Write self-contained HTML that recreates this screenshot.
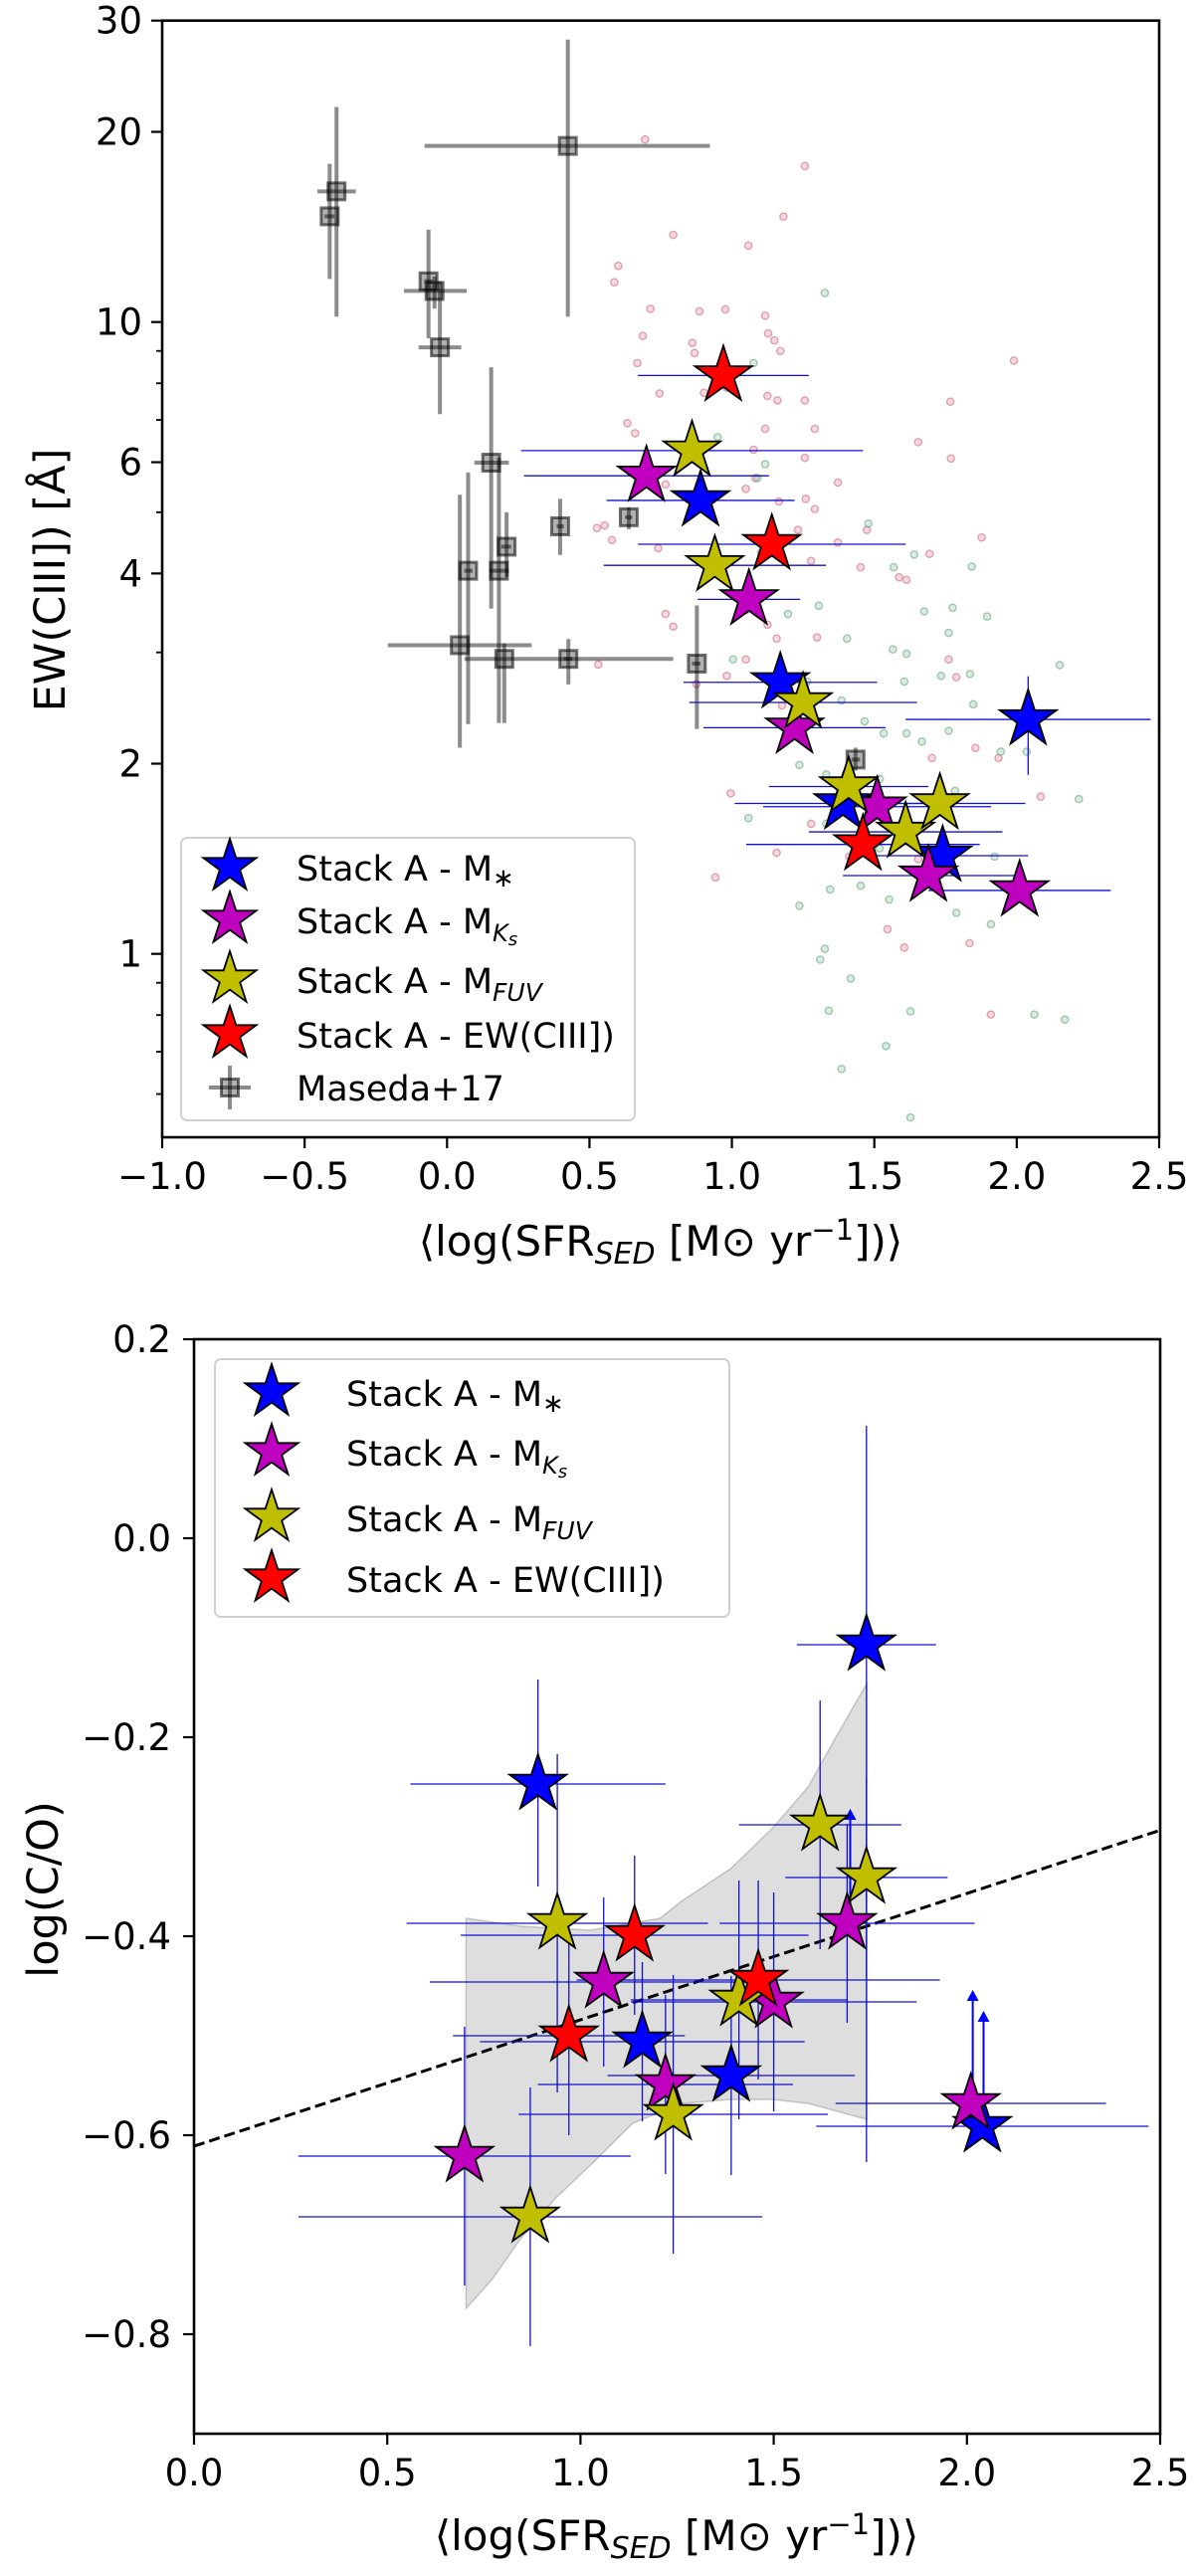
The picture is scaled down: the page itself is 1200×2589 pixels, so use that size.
<!DOCTYPE html>
<html><head><meta charset="utf-8">
<style>
html,body{margin:0;padding:0;background:#fff;}
svg{display:block;font-family:"DejaVu Sans","Liberation Sans",sans-serif;}
</style></head>
<body>
<svg id="fig" width="1200" height="2589" viewBox="0 0 1200 2589" xmlns="http://www.w3.org/2000/svg">
<rect x="0" y="0" width="1200" height="2589" fill="#fff"/>
<g id="topPanel"></g>
<g id="botPanel"></g>
</svg>
<script>
// ---------- TOP PANEL DATA ----------
const bgPinkSfr=[0.695,1.256,1.181,0.794,1.058,0.601,0.587,1.117,0.714,0.977,0.886,1.127,1.149,1.170,0.687,0.861,0.869,0.668,1.990,0.982,0.902,0.746,1.125,1.160,1.256,1.767,0.633,0.660,1.117,1.291,1.076,1.256,1.654,1.769,1.082,1.372,1.259,1.165,1.291,0.767,1.049,0.553,0.526,0.579,1.232,1.474,1.372,1.877,0.741,1.103,1.278,1.587,1.452,1.613,1.694,1.049,0.767,0.794,1.125,1.299,1.157,1.761,1.049,0.531,0.982,0.875,1.788,1.176,1.855,1.702,1.936,1.157,0.996,2.084,1.654,1.278,1.412,1.546,1.605,1.834,1.909,0.942];
const bgPinkLogEW=[1.289,1.247,1.167,1.138,1.121,1.089,1.063,1.010,1.021,1.020,1.017,0.982,0.971,0.954,0.978,0.967,0.951,0.935,0.939,0.896,0.888,0.887,0.883,0.876,0.876,0.874,0.840,0.824,0.831,0.831,0.798,0.785,0.810,0.784,0.753,0.746,0.720,0.716,0.704,0.743,0.736,0.678,0.674,0.655,0.671,0.671,0.651,0.659,0.642,0.635,0.622,0.596,0.612,0.592,0.633,0.544,0.538,0.518,0.521,0.501,0.499,0.466,0.466,0.458,0.440,0.427,0.438,0.393,0.326,0.310,0.310,0.160,0.254,0.249,0.150,0.206,0.154,0.039,0.010,0.017,-0.096,0.121];
const bgGreenSfr=[1.326,1.076,0.950,1.090,1.117,1.479,1.568,1.640,1.842,1.675,1.775,1.896,1.305,1.404,1.197,1.565,1.613,1.761,1.605,1.734,1.836,2.151,1.004,1.264,1.385,1.466,1.613,1.847,1.761,1.533,1.667,1.944,2.035,1.237,1.331,1.519,1.783,2.218,1.331,1.058,1.519,1.922,1.345,1.452,1.552,1.788,1.909,1.237,1.326,1.310,1.417,1.340,1.627,1.541,1.385,1.627,2.062,2.169];
const bgGreenLogEW=[1.046,0.935,0.818,0.753,0.775,0.681,0.612,0.632,0.613,0.542,0.548,0.534,0.551,0.499,0.538,0.482,0.475,0.508,0.431,0.440,0.443,0.457,0.466,0.431,0.401,0.368,0.349,0.395,0.353,0.349,0.336,0.320,0.320,0.299,0.284,0.277,0.258,0.245,0.206,0.215,0.167,0.154,0.102,0.108,0.086,0.065,0.047,0.076,0.008,-0.009,-0.039,-0.090,-0.091,-0.146,-0.182,-0.259,-0.096,-0.104];

const masX=[-0.412,-0.388,0.424,-0.065,-0.044,-0.025,0.155,0.074,0.182,0.209,0.397,0.638,0.045,0.201,0.426,0.877,1.434];
const masXlo=[-0.43,-0.455,-0.079,-0.08,-0.151,-0.100,0.096,0.06,0.150,0.19,0.385,0.625,-0.208,0.061,0.41,0.86,1.42];
const masXhi=[-0.395,-0.320,0.923,-0.05,0.069,0.050,0.217,0.09,0.217,0.225,0.41,0.65,0.297,0.794,0.44,0.89,1.45];
const masEW=[14.7,16.1,19.0,11.6,11.2,9.12,5.99,4.04,4.04,4.41,4.75,4.91,3.08,2.93,2.93,2.88,2.03];
const masEWlo=[11.7,10.2,10.2,9.42,10.5,7.15,3.52,2.31,2.32,3.95,4.28,4.70,2.12,2.32,2.67,2.27,1.95];
const masEWhi=[17.8,21.9,28.0,14.0,11.8,11.6,8.48,5.78,6.10,5.0,5.25,5.09,5.33,3.10,3.15,3.56,2.12];

const topMsSfr=[0.89,1.17,2.04,1.39,1.74];
const topMsEW=[5.22,2.69,2.35,1.73,1.43];
const topMsXerr=[0.33,0.34,0.43,0.38,0.30];
const topKsSfr=[0.70,1.06,1.22,1.51,1.69,2.01];
const topKsEW=[5.71,3.64,2.28,1.71,1.33,1.26];
const topKsXerr=[0.43,0.18,0.32,0.40,0.30,0.32];
const topFuvSfr=[0.86,0.94,1.25,1.41,1.61,1.73];
const topFuvEW=[6.26,4.12,2.50,1.84,1.56,1.73];
const topFuvXerr=[0.60,0.39,0.40,0.28,0.34,0.30];
const topEwSfr=[0.97,1.14,1.46];
const topEwEW=[8.23,4.45,1.49];
const topEwXerr=[0.30,0.47,0.41];

const topXTicks=[-1.0,-0.5,0.0,0.5,1.0,1.5,2.0,2.5];
const topXTickLabels=["\u22121.0","\u22120.5","0.0","0.5","1.0","1.5","2.0","2.5"];
const topYMajor=[1,2,4,6,10,20,30];
const topYMajorLabels=["1","2","4","6","10","20","30"];
const topYMinor=[0.6,0.7,0.8,0.9,3,5,7,8,9];

// ---------- BOTTOM PANEL DATA ----------
const botMsSfr=[0.89,1.16,1.39,1.74,2.04];
const botMsCO=[-0.247,-0.506,-0.540,-0.107,-0.591];
const botMsXerr=[0.33,0.42,0.32,0.18,0.43];
const botMsYlo=[0.103,0.08,0.10,0.52,0.0];
const botMsYhi=[0.105,0.08,0.10,0.22,0.0];
const botKsSfr=[0.70,1.06,1.22,1.50,1.69,2.01];
const botKsCO=[-0.621,-0.446,-0.549,-0.466,-0.387,-0.568];
const botKsXerr=[0.43,0.45,0.33,0.37,0.33,0.35];
const botKsYerr=[0.13,0.085,0.09,0.11,0.10,0.0];
const botFuvSfr=[0.87,0.94,1.24,1.41,1.62,1.74];
const botFuvCO=[-0.682,-0.387,-0.579,-0.464,-0.288,-0.341];
const botFuvXerr=[0.60,0.39,0.40,0.28,0.21,0.21];
const botFuvYerr=[0.13,0.17,0.14,0.12,0.125,0.10];
const botEwSfr=[0.97,1.14,1.46];
const botEwCO=[-0.500,-0.399,-0.444];
const botEwXerr=[0.30,0.45,0.47];
const botEwYerr=[0.10,0.08,0.10];

const limitSfr=[1.698,2.015,2.043];
const limitFrom=[-0.387,-0.568,-0.591];
const limitTo=[-0.274,-0.456,-0.477];

const bandUpX=[0.704,0.845,1.026,1.206,1.261,1.389,1.498,1.589,1.661,1.741];
const bandUpY=[-0.382,-0.390,-0.394,-0.382,-0.365,-0.332,-0.291,-0.250,-0.200,-0.146];
const bandLoX=[0.704,0.771,0.845,0.936,1.026,1.135,1.261,1.389,1.498,1.589,1.741];
const bandLoY=[-0.774,-0.745,-0.704,-0.663,-0.630,-0.588,-0.568,-0.564,-0.564,-0.568,-0.584];

const fitIntercept=-0.611;
const fitSlope=0.127;

const botXTicks=[0.0,0.5,1.0,1.5,2.0,2.5];
const botXTickLabels=["0.0","0.5","1.0","1.5","2.0","2.5"];
const botYTicks=[0.2,0.0,-0.2,-0.4,-0.6,-0.8];
const botYTickLabels=["0.2","0.0","\u22120.2","\u22120.4","\u22120.6","\u22120.8"];

// ---------- helpers ----------
const NS="http://www.w3.org/2000/svg";
function mk(parent,tag,attrs){const e=document.createElementNS(NS,tag);for(const k in attrs)e.setAttribute(k,attrs[k]);parent.appendChild(e);return e;}
function starPts(cx,cy,R){let p=[];for(let i=0;i<10;i++){const a=-Math.PI/2+i*Math.PI/5;const r=i%2?R*0.382:R;p.push((cx+r*Math.cos(a)).toFixed(1)+","+(cy+r*Math.sin(a)).toFixed(1));}return p.join(" ");}

const T={l:163,r:1165,t:20.7,b:1143};
const X1=v=>T.l+(v+1)*(T.r-T.l)/3.5;
const Y1=v=>T.t+(Math.log10(30)-Math.log10(v))*635;
const B={l:195,r:1166,t:1346,b:2446};
const X2=v=>B.l+v*(B.r-B.l)/2.5;
const Y2=v=>B.t+(0.2-v)*1000;

const gTop=document.getElementById('topPanel');
const gBot=document.getElementById('botPanel');

// ===== TOP PANEL =====
const clipT=mk(gTop,'clipPath',{id:'clipT'});mk(clipT,'rect',{x:T.l,y:T.t,width:T.r-T.l,height:T.b-T.t});
const plotT=mk(gTop,'g',{'clip-path':'url(#clipT)'});



for(let i=0;i<bgPinkSfr.length;i++){
  const c=mk(plotT,'circle',{cx:X1(bgPinkSfr[i]),cy:Y1(Math.pow(10,bgPinkLogEW[i])),r:3.6,fill:'rgba(230,150,165,0.35)',stroke:'rgba(205,95,120,0.55)','stroke-width':1.4});
  
  
}
for(let i=0;i<bgGreenSfr.length;i++){
  const c=mk(plotT,'circle',{cx:X1(bgGreenSfr[i]),cy:Y1(Math.pow(10,bgGreenLogEW[i])),r:3.6,fill:'rgba(150,200,170,0.35)',stroke:'rgba(95,160,120,0.55)','stroke-width':1.4});
  
  
}
for(let i=0;i<masX.length;i++){
  const g=mk(plotT,'g',{});
  
  
  const cx=X1(masX[i]),cy=Y1(masEW[i]);
  mk(g,'line',{x1:X1(masXlo[i]),x2:X1(masXhi[i]),y1:cy,y2:cy,stroke:'rgba(0,0,0,0.45)','stroke-width':4});
  mk(g,'line',{x1:cx,x2:cx,y1:Y1(masEWlo[i]),y2:Y1(masEWhi[i]),stroke:'rgba(0,0,0,0.45)','stroke-width':4});
  mk(g,'rect',{x:cx-8.5,y:cy-8.5,width:17,height:17,fill:'rgba(0,0,0,0.3)',stroke:'rgba(0,0,0,0.55)','stroke-width':3});
}
function topSeries(xs,ys,xe,name){
  for(let i=0;i<xs.length;i++){
    const l=mk(plotT,'line',{x1:X1(xs[i]-xe[i]),x2:X1(xs[i]+xe[i]),y1:Y1(ys[i]),y2:Y1(ys[i]),stroke:'#1010d0','stroke-width':1.3});
    
    
  }
}
topSeries(topMsSfr,topMsEW,topMsXerr,'stack-mstar');
topSeries(topKsSfr,topKsEW,topKsXerr,'stack-mks');
topSeries(topFuvSfr,topFuvEW,topFuvXerr,'stack-mfuv');
topSeries(topEwSfr,topEwEW,topEwXerr,'stack-ew');
{const l=mk(plotT,'line',{x1:X1(topMsSfr[2]),x2:X1(topMsSfr[2]),y1:Y1(2.75),y2:Y1(1.92),stroke:'#1010d0','stroke-width':1.3});

}
function topStars(xs,ys,color,name){
  for(let i=0;i<xs.length;i++){
    const s=mk(plotT,'polygon',{points:starPts(X1(xs[i]),Y1(ys[i]),30),fill:color,stroke:'#000','stroke-width':1.8});
    
    
  }
}
topStars(topEwSfr.slice(0,2),topEwEW.slice(0,2),'#ff0000','stack-ew');
topStars(topMsSfr,topMsEW,'#0000ff','stack-mstar');
topStars(topKsSfr,topKsEW,'#bf00bf','stack-mks');
topStars(topFuvSfr,topFuvEW,'#bfbf00','stack-mfuv');
topStars(topEwSfr.slice(2),topEwEW.slice(2),'#ff0000','stack-ew');

{const f=mk(gTop,'rect',{x:T.l,y:T.t,width:T.r-T.l,height:T.b-T.t,fill:'none',stroke:'#000','stroke-width':2.6});

}
const gxt=mk(gTop,'g',{});
topXTicks.forEach((v,i)=>{const x=X1(v);mk(gxt,'line',{x1:x,x2:x,y1:T.b,y2:T.b+11,stroke:'#000','stroke-width':2.2});
 const t=mk(gxt,'text',{x:x,y:T.b+52,'font-size':37,'text-anchor':'middle',fill:'#000'});t.textContent=topXTickLabels[i];
 
 });
const gyt=mk(gTop,'g',{});
topYMajor.forEach((v,i)=>{const y=Y1(v);mk(gyt,'line',{x1:T.l-11,x2:T.l,y1:y,y2:y,stroke:'#000','stroke-width':2.2});
 const t=mk(gyt,'text',{x:T.l-20,y:y+13,'font-size':37,'text-anchor':'end',fill:'#000'});t.textContent=topYMajorLabels[i];
 
 });
topYMinor.forEach(v=>{const y=Y1(v);mk(gyt,'line',{x1:T.l-6,x2:T.l,y1:y,y2:y,stroke:'#000','stroke-width':1.8});});

function sfrLabel(parent,x,y,name){
  const t=mk(parent,'text',{x:x,y:y,'font-size':42,'text-anchor':'middle',fill:'#000'});
  
  
  const parts=[['\u27E8log(SFR',{}],['SED',{'font-size':30,'font-style':'italic',dy:8}],[' [M\u2299 yr',{dy:-8}],['\u22121',{'font-size':29,dy:-16}],['])\u27E9',{dy:16}]];
  parts.forEach(p=>{const s=mk(t,'tspan',p[1]);s.textContent=p[0];});
}
sfrLabel(gTop,664,1262,'ew-x-axis-title');
{const t=mk(gTop,'text',{x:0,y:0,'font-size':43,'text-anchor':'middle',fill:'#000',transform:'translate(65,583) rotate(-90)'});

t.textContent='EW(CIII]) [\u00C5]';}

const legColors=['#0000ff','#bf00bf','#bfbf00','#ff0000'];
function legendText(parent,x,y,i){
  const t=mk(parent,'text',{x:x,y:y,'font-size':35,fill:'#000'});
  
  
  const add=(txt,a)=>{const s=mk(t,'tspan',a);s.textContent=txt;return s;};
  if(i===0){add('Stack A - M',{});add('\u2217',{'font-size':26,dy:6});}
  else if(i===1){add('Stack A - M',{});add('K',{'font-size':24,'font-style':'italic',dy:8});add('s',{'font-size':18,'font-style':'italic',dy:4});}
  else if(i===2){add('Stack A - M',{});add('FUV',{'font-size':25,'font-style':'italic',dy:8});}
  else {add('Stack A - EW(CIII])',{});}
}
const lgT=mk(gTop,'g',{});
mk(lgT,'rect',{x:182,y:842,width:456,height:284,rx:6,fill:'rgba(255,255,255,0.85)',stroke:'#d0d0d0','stroke-width':2});
const legTopRows=[871,924,984,1039];
legTopRows.forEach((y,i)=>{
 const s=mk(lgT,'polygon',{points:starPts(231,y,28),fill:legColors[i],stroke:'#000','stroke-width':1.8});
 
 legendText(lgT,298,y+14,i);
});
{const y=1093;mk(lgT,'line',{x1:210,x2:252,y1:y,y2:y,stroke:'rgba(0,0,0,0.45)','stroke-width':4});
mk(lgT,'line',{x1:231,x2:231,y1:y-22,y2:y+22,stroke:'rgba(0,0,0,0.45)','stroke-width':4});
mk(lgT,'rect',{x:222.5,y:y-8.5,width:17,height:17,fill:'rgba(0,0,0,0.3)',stroke:'rgba(0,0,0,0.55)','stroke-width':3});
const t=mk(lgT,'text',{x:298,y:y+13,'font-size':35,fill:'#000'});t.textContent='Maseda+17';
}

// ===== BOTTOM PANEL =====
const clipB=mk(gBot,'clipPath',{id:'clipB'});mk(clipB,'rect',{x:B.l,y:B.t,width:B.r-B.l,height:B.b-B.t});
const plotB=mk(gBot,'g',{'clip-path':'url(#clipB)'});


{let pts=[];for(let i=0;i<bandUpX.length;i++)pts.push(X2(bandUpX[i])+','+Y2(bandUpY[i]));
for(let i=bandLoX.length-1;i>=0;i--)pts.push(X2(bandLoX[i])+','+Y2(bandLoY[i]));
const p=mk(plotB,'polygon',{points:pts.join(' '),fill:'rgba(160,160,160,0.35)',stroke:'rgba(150,150,150,0.5)','stroke-width':1.5});
}
{const l=mk(plotB,'line',{x1:X2(0),y1:Y2(fitIntercept),x2:X2(2.5),y2:Y2(fitIntercept+fitSlope*2.5),stroke:'#000','stroke-width':3,'stroke-dasharray':'11,5'});
}
function botErr(xs,ys,xe,ylo,yhi,name){
  for(let i=0;i<xs.length;i++){
    const g=mk(plotB,'g',{});
    
    
    mk(g,'line',{x1:X2(xs[i]-xe[i]),x2:X2(xs[i]+xe[i]),y1:Y2(ys[i]),y2:Y2(ys[i]),stroke:'#1010d0','stroke-width':1.3});
    if(ylo[i]>0||yhi[i]>0)mk(g,'line',{x1:X2(xs[i]),x2:X2(xs[i]),y1:Y2(ys[i]-ylo[i]),y2:Y2(ys[i]+yhi[i]),stroke:'#1010d0','stroke-width':1.3});
  }
}
botErr(botMsSfr,botMsCO,botMsXerr,botMsYlo,botMsYhi,'stack-mstar');
botErr(botKsSfr,botKsCO,botKsXerr,botKsYerr,botKsYerr,'stack-mks');
botErr(botFuvSfr,botFuvCO,botFuvXerr,botFuvYerr,botFuvYerr,'stack-mfuv');
botErr(botEwSfr,botEwCO,botEwXerr,botEwYerr,botEwYerr,'stack-ew');
for(let i=0;i<limitSfr.length;i++){
  const g=mk(plotB,'g',{});
  
  
  const x=X2(limitSfr[i]),y0=Y2(limitFrom[i]),y1=Y2(limitTo[i]);
  mk(g,'line',{x1:x,x2:x,y1:y0,y2:y1+8,stroke:'#0000ff','stroke-width':2});
  mk(g,'polygon',{points:`${x-6},${y1+9} ${x+6},${y1+9} ${x},${y1-2}`,fill:'#0000ff'});
}
function botStars(xs,ys,color,name){
  for(let i=0;i<xs.length;i++){
    const s=mk(plotB,'polygon',{points:starPts(X2(xs[i]),Y2(ys[i]),30),fill:color,stroke:'#000','stroke-width':1.8});
    
    
  }
}
botStars(botMsSfr,botMsCO,'#0000ff','stack-mstar');
botStars(botKsSfr,botKsCO,'#bf00bf','stack-mks');
botStars(botFuvSfr,botFuvCO,'#bfbf00','stack-mfuv');
botStars(botEwSfr,botEwCO,'#ff0000','stack-ew');

{const f=mk(gBot,'rect',{x:B.l,y:B.t,width:B.r-B.l,height:B.b-B.t,fill:'none',stroke:'#000','stroke-width':2.6});
}
const bxt=mk(gBot,'g',{});
botXTicks.forEach((v,i)=>{const x=X2(v);mk(bxt,'line',{x1:x,x2:x,y1:B.b,y2:B.b+11,stroke:'#000','stroke-width':2.2});
 const t=mk(bxt,'text',{x:x,y:B.b+52,'font-size':37,'text-anchor':'middle',fill:'#000'});t.textContent=botXTickLabels[i];
 });
const byt=mk(gBot,'g',{});
botYTicks.forEach((v,i)=>{const y=Y2(v);mk(byt,'line',{x1:B.l-11,x2:B.l,y1:y,y2:y,stroke:'#000','stroke-width':2.2});
 const t=mk(byt,'text',{x:B.l-23,y:y+13,'font-size':37,'text-anchor':'end',fill:'#000'});t.textContent=botYTickLabels[i];
 });
sfrLabel(gBot,680,2563,'co-x-axis-title');
{const t=mk(gBot,'text',{x:0,y:0,'font-size':43,'text-anchor':'middle',fill:'#000',transform:'translate(58,1899) rotate(-90)'});

t.textContent='log(C/O)';}

const lgB=mk(gBot,'g',{});
mk(lgB,'rect',{x:216,y:1366,width:517,height:259,rx:6,fill:'rgba(255,255,255,0.85)',stroke:'#d0d0d0','stroke-width':2});
const legBotRows=[1399,1459,1525,1586];
legBotRows.forEach((y,i)=>{
 const s=mk(lgB,'polygon',{points:starPts(273,y,28),fill:legColors[i],stroke:'#000','stroke-width':1.8});
 
 legendText(lgB,348,y+14,i);
});
</script>
</body></html>
